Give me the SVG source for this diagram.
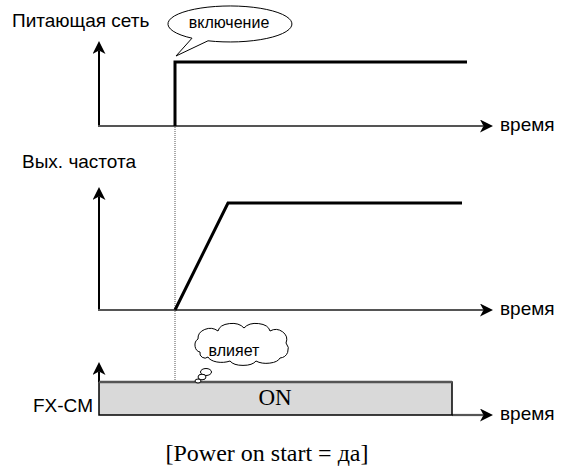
<svg xmlns="http://www.w3.org/2000/svg" width="563" height="467" viewBox="0 0 563 467">
<style>
.lbl{font-family:"Liberation Sans",Arial,sans-serif;font-size:19px;fill:#000}
.small{font-family:"Liberation Sans",Arial,sans-serif;font-size:16px;fill:#000}
.serif{font-family:"Liberation Serif","Times New Roman",serif;fill:#000}
.vax{stroke:#000;stroke-width:2;fill:none}
.hax{stroke:#555;stroke-width:2.2;fill:none}
.sig{stroke:#000;stroke-width:3;fill:none}
.bub{fill:#fff;stroke:#000;stroke-width:1}
</style>
<defs>
<marker id="arr" markerUnits="userSpaceOnUse" markerWidth="13" markerHeight="13" refX="3.5" refY="6.5" orient="auto">
<path d="M0,0 L13,6.5 L0,13 L3.5,6.5 Z" fill="#000"/>
</marker>
</defs>
<rect width="563" height="467" fill="#fff"/>

<g id="connectors">
<line class="vax" x1="99" y1="126" x2="99" y2="50.5" marker-end="url(#arr)"/>
<line class="hax" x1="98" y1="126" x2="483.5" y2="126" marker-end="url(#arr)"/>
<line class="vax" x1="99" y1="310" x2="99" y2="196.5" marker-end="url(#arr)"/>
<line class="hax" x1="98" y1="310" x2="483.5" y2="310" marker-end="url(#arr)"/>
<line class="vax" x1="99" y1="382" x2="99" y2="371.5" marker-end="url(#arr)"/>
<line class="hax" x1="452" y1="415" x2="483.5" y2="415" marker-end="url(#arr)"/>
<line x1="175" y1="127" x2="175" y2="381" stroke="#555" stroke-width="1" stroke-dasharray="1,1"/>
</g>

<g id="power-signal">
<path class="sig" d="M175,126 V62 H467"/>
</g>
<g id="freq-signal">
<path class="sig" d="M175,310 L228,203 H462"/>
</g>

<g id="label-power">
<text class="lbl" x="12" y="27">Питающая сеть</text>
</g>
<g id="bubble-on">
<path class="bub" d="M192,38.2 L176,56 L208,40.8 A62 18 0 1 0 192,38.2 Z"/>
<text class="small" x="229" y="28" text-anchor="middle">включение</text>
</g>
<g id="label-freq">
<text class="lbl" x="22" y="168">Вых. частота</text>
</g>
<g id="time-labels">
<text class="lbl" x="500" y="131">время</text>
<text class="lbl" x="500" y="315">время</text>
<text class="lbl" x="500" y="420">время</text>
</g>

<g id="fx-cm">
<rect x="99" y="382" width="353" height="33" fill="#d9d9d9" stroke="#000" stroke-width="1.5"/>
<line x1="99" y1="382" x2="452" y2="382" stroke="#555" stroke-width="2.5"/>
<text class="serif" x="275" y="405" font-size="23" text-anchor="middle">ON</text>
<text class="lbl" x="33" y="412">FX-CM</text>
</g>

<g id="cloud">
<path class="bub" d="M200,352 a6 7 0 0 1 -2,-13 a12 10 0 0 1 20,-8 a14 9 0 0 1 26,-3 a14 9 0 0 1 26,3 a11 10 0 0 1 16,12 a9 9 0 0 1 -6,15 a14 7 0 0 1 -24,3 a14 7 0 0 1 -26,0 a14 7 0 0 1 -22,-4 a5 5 0 0 1 -8,-5 Z"/>
<ellipse class="bub" cx="206" cy="372" rx="5.5" ry="3.5"/>
<ellipse class="bub" cx="202" cy="377" rx="4" ry="2.8"/>
<ellipse class="bub" cx="198" cy="381" rx="3" ry="2"/>
<text class="small" x="234" y="356" text-anchor="middle">влияет</text>
</g>

<g id="caption">
<text class="serif" x="267" y="461" font-size="24" text-anchor="middle">[Power on start = да]</text>
</g>
</svg>
